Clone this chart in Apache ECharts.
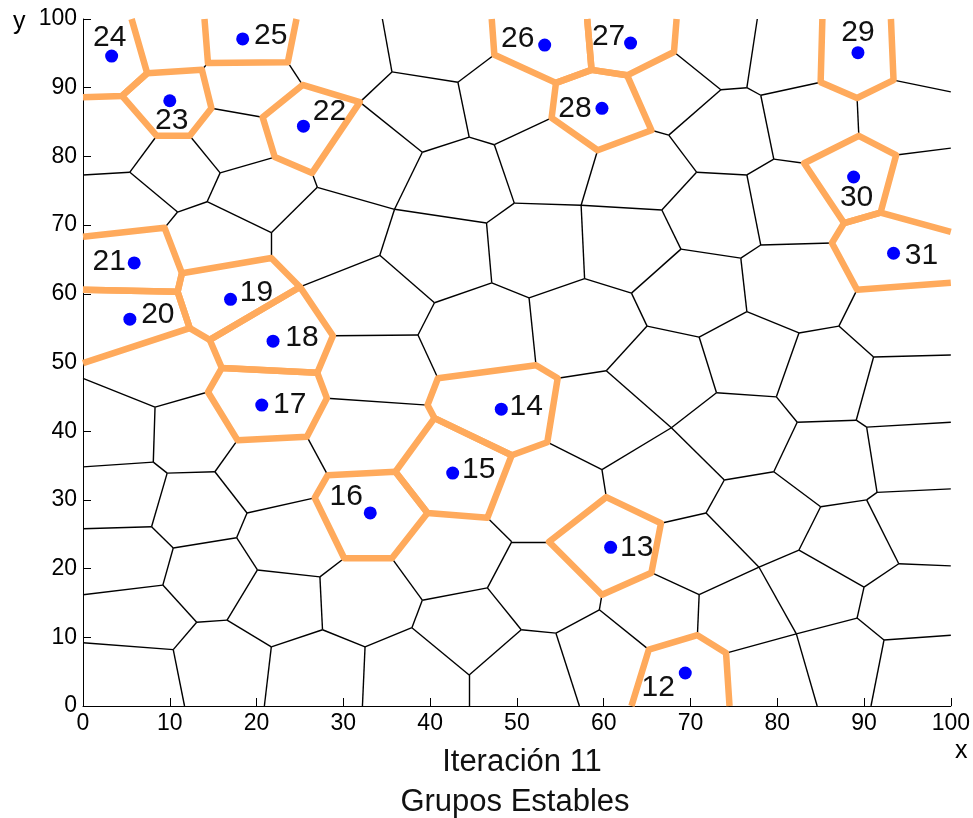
<!DOCTYPE html>
<html>
<head>
<meta charset="utf-8">
<script src="https://cdn.jsdelivr.net/npm/echarts@6/dist/echarts.min.js"></script>
<style>
html,body{margin:0;padding:0;background:#fff;}
#chart{width:973px;height:818px;}
</style>
</head>
<body>
<div id="chart"></div>
<script>
// Voronoi edges (data units): [x1, y1, x2, y2]
const blackEdges = [
[13.7,92.6,14.4,93.6],[14.8,87.0,20.7,85.7],[12.3,83.0,15.8,77.6],[8.5,83.0,5.4,77.7],
[5.4,77.7,0,77.3],[5.4,77.7,10.9,71.9],[15.8,77.6,14.3,73.4],[14.3,73.4,10.9,71.9],
[15.8,77.6,22.1,79.9],[14.3,73.4,21.7,68.9],[10.9,71.9,9.4,69.6],[21.7,68.9,27.0,75.5],
[21.7,68.9,21.7,65.2],[23.6,93.7,25.3,90.4],[27.0,75.5,26.4,77.6],[27.0,75.5,35.9,72.3],
[34.5,100,35.6,92.3],[35.6,92.3,31.9,87.9],[35.6,92.3,43.2,90.8],[43.2,90.8,47.4,94.8],
[43.2,90.8,44.5,82.8],[44.5,82.8,39.1,80.6],[39.1,80.6,31.9,87.9],[44.5,82.8,47.4,81.7],
[47.4,81.7,49.7,73.2],[39.1,80.6,35.9,72.3],[35.9,72.3,46.5,70.3],[46.5,70.3,49.7,73.2],
[35.9,72.3,34.2,65.6],[46.5,70.3,47.1,61.6],[47.4,81.7,54.0,85.6],[68.1,95.2,73.5,89.7],
[73.5,89.7,67.5,83.1],[67.5,83.1,65.5,83.8],[67.5,83.1,70.7,77.7],[70.7,77.7,66.7,72.2],
[66.7,72.2,57.4,72.9],[57.4,72.9,59.3,80.9],[57.4,72.9,49.7,73.2],[57.4,72.9,57.8,62.2],
[66.7,72.2,68.9,66.5],[77.7,100,76.5,90.0],[76.5,90.0,73.5,89.7],[76.5,90.0,78.1,88.9],
[78.1,88.9,85.0,90.8],[93.4,91.1,100,89.4],[89.2,88.5,89.4,83.0],[93.7,80.2,100,81.2],
[83.1,79.0,79.6,79.6],[78.1,88.9,79.6,79.6],[79.6,79.6,76.5,77.3],[76.5,77.3,70.7,77.7],
[76.5,77.3,78.1,67.1],[78.1,67.1,86.3,67.4],[78.1,67.1,75.8,65.2],[75.8,65.2,68.9,66.5],
[75.8,65.2,76.5,57.4],[76.5,57.4,71.0,53.7],[76.5,57.4,82.5,54.3],[82.5,54.3,87.1,55.3],
[87.1,55.3,89.2,60.6],[87.1,55.3,91.1,50.8],[91.1,50.8,100,51.1],[82.5,54.3,79.9,45.0],
[79.9,45.0,73.0,45.6],[79.9,45.0,82.3,41.3],[82.3,41.3,89.1,41.6],[89.1,41.6,91.1,50.8],
[89.1,41.6,90.3,40.6],[90.3,40.6,100,41.3],[90.3,40.6,91.5,31.1],[82.3,41.3,79.6,34.1],
[79.6,34.1,73.9,32.9],[79.6,34.1,85.0,29.0],[85.0,29.0,90.3,30.0],[90.3,30.0,91.5,31.1],
[91.5,31.1,100,31.6],[90.3,30.0,94.0,20.7],[94.0,20.7,100,20.4],[94.0,20.7,90.0,17.3],
[90.0,17.3,82.5,22.7],[82.5,22.7,85.0,29.0],[82.5,22.7,77.9,20.2],[77.9,20.2,71.8,28.1],
[77.9,20.2,71.0,16.2],[77.9,20.2,82.2,10.5],[90.0,17.3,89.2,12.8],[89.2,12.8,92.3,9.6],
[92.3,9.6,100,10.3],[92.3,9.6,90.8,0],[89.2,12.8,82.2,10.5],[82.2,10.5,74.1,7.7],
[82.2,10.5,84.6,0],[57.8,62.2,51.4,59.4],[51.4,59.4,47.1,61.6],[51.4,59.4,52.2,49.6],
[57.8,62.2,63.2,60.1],[63.2,60.1,68.9,66.5],[63.2,60.1,65.0,55.3],[65.0,55.3,71.0,53.7],
[71.0,53.7,73.0,45.6],[65.0,55.3,60.3,48.8],[60.3,48.8,54.7,47.7],[60.3,48.8,67.8,40.5],
[67.8,40.5,73.9,32.9],[73.0,45.6,67.8,40.5],[67.8,40.5,59.8,34.4],[53.5,38.4,59.8,34.4],
[59.8,34.4,60.3,30.4],[66.6,26.6,71.8,28.1],[71.8,28.1,73.9,32.9],[65.5,19.4,71.0,16.2],
[71.0,16.2,70.8,10.3],[59.8,16.2,59.5,14.0],[59.5,14.0,54.5,10.6],[54.5,10.6,50.5,11.1],
[54.5,10.6,57.2,0],[59.5,14.0,65.2,8.2],[53.7,23.9,49.4,23.9],[49.4,23.9,46.6,27.4],
[49.4,23.9,46.6,17.2],[46.6,17.2,39.1,15.4],[39.1,15.4,35.6,21.5],[39.1,15.4,37.9,11.4],
[37.9,11.4,32.5,8.6],[37.9,11.4,44.5,4.5],[44.5,4.5,44.5,0],[44.5,4.5,50.5,11.1],
[46.6,17.2,50.5,11.1],[32.5,8.6,32.2,0],[32.5,8.6,27.6,11.1],[27.6,11.1,27.3,18.8],
[27.6,11.1,21.7,8.6],[27.3,18.8,30.1,21.5],[27.3,18.8,20.1,19.8],[34.2,65.6,25.0,61.0],
[34.2,65.6,40.5,58.7],[40.5,58.7,47.1,61.6],[40.5,58.7,38.6,54.0],[38.6,54.0,28.8,53.9],
[38.6,54.0,40.9,47.7],[28.1,44.8,39.7,43.8],[0,47.7,8.3,43.5],[8.3,43.5,14.4,45.7],
[8.3,43.5,8.1,35.5],[8.1,35.5,0,34.8],[8.1,35.5,9.7,33.9],[9.7,33.9,15.2,34.1],
[15.2,34.1,17.8,38.7],[9.7,33.9,7.9,26.1],[7.9,26.1,0,25.8],[7.9,26.1,10.4,23.0],
[10.4,23.0,17.7,24.5],[17.7,24.5,18.9,28.1],[18.9,28.1,15.2,34.1],[18.9,28.1,26.7,30.3],
[17.7,24.5,20.1,19.8],[20.1,19.8,16.6,12.5],[10.4,23.0,9.2,17.6],[9.2,17.6,0,16.2],
[9.2,17.6,13.1,12.2],[13.1,12.2,16.6,12.5],[13.1,12.2,10.4,8.2],[10.4,8.2,0,9.2],
[10.4,8.2,11.7,0],[16.6,12.5,21.7,8.6],[21.7,8.6,20.9,0],[25.8,39.2,28.2,33.6]
];

// Stable groups: cell outlines (closed = polygon inside the plot, open = touching the border)
const stableCells = [
  {id:12, closed:false, pts:[[63.2,0],[65.2,8.2],[70.8,10.3],[74.1,7.7],[74.5,0]]},
  {id:13, closed:true,  pts:[[53.7,23.9],[60.3,30.4],[66.6,26.6],[65.5,19.4],[59.8,16.2]]},
  {id:14, closed:true,  pts:[[40.9,47.7],[52.2,49.6],[54.7,47.7],[53.5,38.4],[49.4,36.5],[40.5,41.9],[39.7,43.8]]},
  {id:15, closed:true,  pts:[[40.5,41.9],[49.4,36.5],[46.6,27.4],[39.7,28.1],[36.0,34.1]]},
  {id:16, closed:true,  pts:[[26.7,30.3],[28.2,33.6],[36.0,34.1],[39.7,28.1],[35.6,21.5],[30.1,21.5]]},
  {id:17, closed:true,  pts:[[14.4,45.7],[16.0,49.2],[27.0,48.5],[28.1,44.8],[25.8,39.2],[17.8,38.7]]},
  {id:18, closed:true,  pts:[[14.6,53.3],[25.0,61.0],[28.8,53.9],[27.0,48.5],[16.0,49.2]]},
  {id:19, closed:true,  pts:[[11.4,63.0],[21.7,65.2],[25.0,61.0],[14.6,53.3],[12.3,55.0],[10.9,60.3]]},
  {id:20, closed:false, pts:[[0,60.6],[10.9,60.3],[12.3,55.0],[0,49.9]]},
  {id:21, closed:false, pts:[[0,68.3],[9.4,69.6],[11.4,63.0],[10.9,60.3],[0,60.6]]},
  {id:22, closed:true,  pts:[[25.3,90.4],[31.9,87.9],[26.4,77.6],[22.1,79.9],[20.7,85.7]]},
  {id:23, closed:true,  pts:[[7.4,92.1],[13.7,92.6],[14.8,87.0],[12.3,83.0],[8.5,83.0],[4.5,88.8]]},
  {id:24, closed:false, pts:[[5.6,100],[7.4,92.1],[4.5,88.8],[0,88.6]]},
  {id:25, closed:false, pts:[[14.0,100],[14.4,93.6],[23.6,93.7],[24.6,100]]},
  {id:26, closed:false, pts:[[47.1,100],[47.4,94.8],[54.5,90.7],[58.6,92.6],[58.1,100]]},
  {id:27, closed:false, pts:[[58.1,100],[58.6,92.6],[62.7,91.8],[68.1,95.2],[68.4,100]]},
  {id:28, closed:true,  pts:[[54.5,90.7],[58.6,92.6],[62.7,91.8],[65.5,83.8],[59.3,80.9],[54.0,85.6]]},
  {id:29, closed:false, pts:[[85.2,100],[85.0,90.8],[89.2,88.5],[93.4,91.1],[93.1,100]]},
  {id:30, closed:true,  pts:[[89.4,83.0],[93.7,80.2],[91.9,71.8],[87.7,70.3],[83.1,79.0]]},
  {id:31, closed:false, pts:[[100,69.0],[91.9,71.8],[87.7,70.3],[86.3,67.4],[89.2,60.6],[100,61.6]]}
];

// Group centres (sites) and their labels
const siteLabels = ['12','13','14','15','16','17','18','19','20','21','22','23','24','25','26','27','28','29','30','31'];
const siteX = [69.4,60.8,48.2,42.6,33.1,20.6,21.9,17.0,5.4,5.9,25.4,10.0,3.3,18.4,53.2,63.1,59.8,89.3,88.8,93.4];
const siteY = [4.8,23.1,43.2,33.9,28.1,43.8,53.1,59.2,56.3,64.5,84.4,88.1,94.6,97.1,96.2,96.5,87.0,95.1,77.0,65.9];

const xTicks = [0,10,20,30,40,50,60,70,80,90,100];
const yTicks = [0,10,20,30,40,50,60,70,80,90,100];

// label placement (style, pixels from the dot)
const labelOffsets = [[-27,15],[26,0],[25,-2],[26,-3],[-24,-16],[28,0],[29,-3],[26,-7],[28,-4],[-25,-1],
  [26,-14],[2,20],[-2,-18],[28,-3],[-27,-6],[-22,-6],[-27,0],[0,-20],[3,21],[28,2]];

const FONT = '"Liberation Sans", Arial, sans-serif';
const chart = echarts.init(document.getElementById('chart'), null, {renderer:'canvas'});

const axisCommon = {
  type:'value', min:xTicks[0], max:xTicks[xTicks.length-1], interval:10,
  axisLine:{show:true, lineStyle:{color:'#000', width:1}},
  axisTick:{show:true, inside:true, length:8, lineStyle:{color:'#000', width:1}},
  splitLine:{show:false},
  axisLabel:{color:'#000', fontSize:23, fontFamily:FONT}
};

const titleStyle = {fontSize:31, fontWeight:'normal', color:'#111', fontFamily:FONT};

chart.setOption({
  animation:false,
  backgroundColor:'#fff',
  grid:{left:83, right:21, top:19, bottom:112, containLabel:false},
  xAxis:Object.assign({}, axisCommon, {axisLabel:Object.assign({}, axisCommon.axisLabel, {margin:6})}),
  yAxis:Object.assign({}, axisCommon, {axisLabel:Object.assign({}, axisCommon.axisLabel, {margin:6})}),
  title:[
    {text:'Iteración 11', left:517, top:742, textAlign:'center', textStyle:titleStyle},
    {text:'Grupos Estables', left:510, top:782, textAlign:'center', textStyle:titleStyle}
  ],
  graphic:[
    {type:'text', left:13, top:10, style:{text:'y', fill:'#000', font:'25px ' + FONT}},
    {type:'text', left:955, top:739, style:{text:'x', fill:'#000', font:'25px ' + FONT}}
  ],
  series:[
    {
      type:'lines', coordinateSystem:'cartesian2d', z:2, silent:true,
      lineStyle:{color:'#000', width:1.4, opacity:1},
      data:blackEdges.map(e => ({coords:[[e[0],e[1]],[e[2],e[3]]]}))
    },
    {
      type:'lines', coordinateSystem:'cartesian2d', polyline:true, z:3, silent:true,
      lineStyle:{color:'#ffaa5c', width:6.5, opacity:1, join:'round', cap:'butt'},
      data:stableCells.map(c => ({coords: c.closed ? c.pts.concat([c.pts[0], c.pts[1]]) : c.pts}))
    },
    {
      type:'scatter', z:5, symbol:'circle', symbolSize:13,
      itemStyle:{color:'#0000ff', opacity:1},
      data:siteX.map((x,i) => ({
        value:[x, siteY[i]], name:siteLabels[i],
        label:{show:true, position:'inside', offset:labelOffsets[i], formatter:siteLabels[i],
               color:'#111', fontSize:30, fontFamily:FONT}
      }))
    }
  ]
});
</script>
</body>
</html>
